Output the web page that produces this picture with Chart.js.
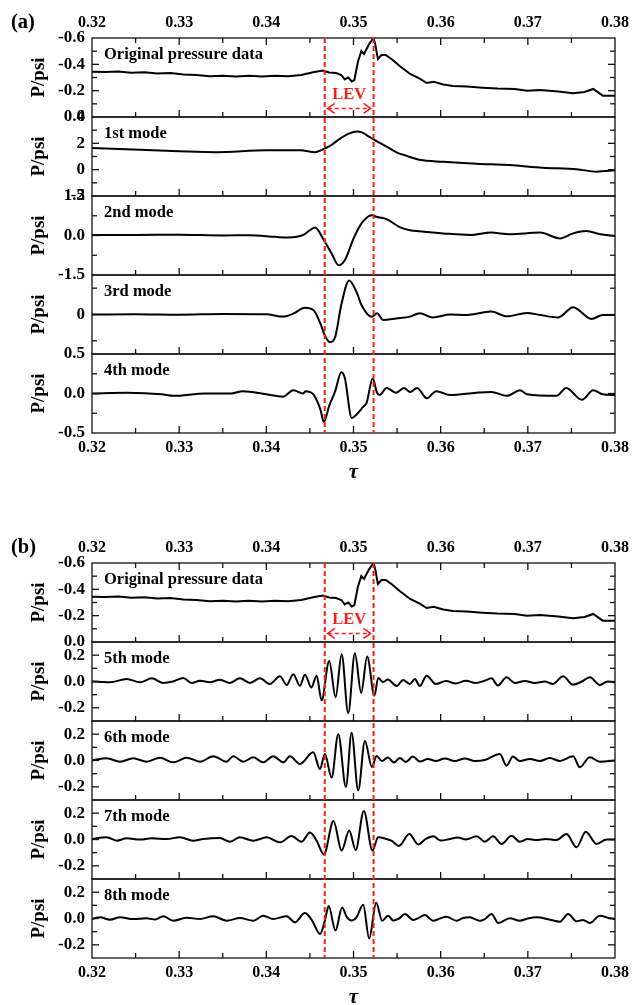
<!DOCTYPE html>
<html>
<head>
<meta charset="utf-8">
<script src="https://cdn.jsdelivr.net/npm/chart.js@4.4.0/dist/chart.umd.min.js"></script>
<style>
html, body { margin: 0; padding: 0; background: #fff; overflow: hidden; }
#wrap { position: relative; width: 643px; height: 1005px; }
canvas { position: absolute; left: 0; }
</style>
</head>
<body>
<div id="wrap">
  <canvas id="panel-a" width="643" height="490" style="top:0px"></canvas>
  <canvas id="panel-b" width="643" height="490" style="top:525px"></canvas>
</div>
<script>
// tau axis
var tauRange = [0.32, 0.38];
var xMajor = [0.32, 0.33, 0.34, 0.35, 0.36, 0.37, 0.38];
var xMinor = [0.325, 0.335, 0.345, 0.355, 0.365, 0.375];
// leading edge vortex window
var levBounds = [0.3467, 0.3523];
var levLabelY = -0.17;
var levArrowY = -0.065;

// original pressure data
var tauOrig = [0.3200,0.3215,0.3230,0.3245,0.3260,0.3275,0.3290,0.3305,0.3320,0.3335,0.3350,0.3365,0.3380,0.3395,0.3410,0.3425,0.3440,0.3455,0.3465,0.3472,0.3480,0.3486,0.3490,0.3494,0.3498,0.3501,0.3505,0.3509,0.3512,0.3518,0.3523,0.3525,0.3528,0.3532,0.3537,0.3545,0.3553,0.3565,0.3576,0.3584,0.3592,0.3603,0.3614,0.3630,0.3648,0.3665,0.3685,0.3699,0.3714,0.3735,0.3752,0.3765,0.3775,0.3786,0.3800];
var pOrig = [-0.344,-0.342,-0.346,-0.336,-0.340,-0.330,-0.334,-0.323,-0.319,-0.309,-0.314,-0.308,-0.313,-0.308,-0.313,-0.309,-0.319,-0.342,-0.353,-0.338,-0.334,-0.319,-0.285,-0.300,-0.270,-0.281,-0.418,-0.501,-0.478,-0.554,-0.600,-0.551,-0.440,-0.471,-0.471,-0.433,-0.387,-0.327,-0.292,-0.258,-0.268,-0.247,-0.235,-0.232,-0.223,-0.216,-0.213,-0.200,-0.205,-0.194,-0.180,-0.190,-0.213,-0.162,-0.162];

// modes 1-4
var tauM1 = [0.3200,0.3247,0.3300,0.3343,0.3400,0.3439,0.3456,0.3462,0.3467,0.3473,0.3484,0.3494,0.3504,0.3509,0.3515,0.3523,0.3542,0.3550,0.3561,0.3576,0.3603,0.3641,0.3679,0.3717,0.3756,0.3779,0.3800];
var pM1 = [1.65,1.53,1.40,1.33,1.47,1.47,1.33,1.45,1.62,1.80,2.33,2.72,2.90,2.85,2.63,2.30,1.60,1.30,1.05,0.75,0.60,0.45,0.35,0.15,0.03,-0.15,-0.05];

var tauM2 = [0.3200,0.3250,0.3300,0.3350,0.3380,0.3410,0.3425,0.3435,0.3443,0.3450,0.3456,0.3465,0.3475,0.3483,0.3490,0.3500,0.3509,0.3521,0.3527,0.3538,0.3553,0.3565,0.3576,0.3603,0.3634,0.3658,0.3679,0.3714,0.3737,0.3752,0.3767,0.3783,0.3800];
var pM2 = [0.02,0.02,0.03,0.00,0.01,-0.05,-0.08,-0.05,0.03,0.20,0.30,-0.12,-0.69,-1.13,-0.94,-0.12,0.45,0.77,0.70,0.62,0.32,0.20,0.16,0.08,0.02,0.11,0.05,0.11,-0.11,0.08,0.17,0.05,-0.02];

var tauM3 = [0.3200,0.3250,0.3300,0.3350,0.3400,0.3419,0.3432,0.3444,0.3454,0.3462,0.3467,0.3473,0.3479,0.3486,0.3495,0.3504,0.3509,0.3521,0.3527,0.3534,0.3549,0.3565,0.3576,0.3591,0.3611,0.3630,0.3658,0.3676,0.3699,0.3714,0.3735,0.3752,0.3773,0.3786,0.3800];
var pM3 = [0.00,0.01,-0.01,0.02,0.01,-0.08,0.05,0.26,0.17,-0.34,-0.79,-1.05,-0.85,0.37,1.29,0.81,0.37,-0.09,0.05,-0.21,-0.15,-0.08,0.05,-0.11,0.00,-0.02,0.11,-0.07,0.06,-0.02,-0.11,0.28,-0.17,-0.02,-0.02];

var tauM4 = [0.3200,0.3240,0.3280,0.3293,0.3330,0.3360,0.3373,0.3400,0.3419,0.3431,0.3442,0.3445,0.3454,0.3462,0.3466,0.3472,0.3479,0.3486,0.3490,0.3498,0.3504,0.3511,0.3515,0.3522,0.3527,0.3530,0.3538,0.3549,0.3558,0.3565,0.3573,0.3584,0.3595,0.3611,0.3641,0.3658,0.3676,0.3691,0.3699,0.3733,0.3744,0.3762,0.3775,0.3786,0.3800];
var pM4 = [0.00,0.01,-0.01,-0.03,0.00,0.00,0.03,-0.01,-0.04,0.04,0.00,0.03,-0.01,-0.20,-0.36,-0.16,0.03,0.27,0.20,-0.31,-0.26,-0.17,-0.12,0.19,0.01,-0.02,0.07,0.01,0.07,0.02,0.07,-0.06,0.03,-0.02,0.01,0.02,-0.03,0.04,-0.01,-0.03,0.07,-0.08,0.04,-0.01,-0.02];

// modes 5-8
var tauM5 = [0.32,0.32206,0.32398,0.3255,0.32685,0.32814,0.32929,0.33047,0.33143,0.33239,0.33353,0.33468,0.33583,0.33697,0.33812,0.33927,0.34041,0.34156,0.34233,0.34309,0.34385,0.34443,0.34517,0.34577,0.34634,0.34721,0.34795,0.34864,0.34939,0.35016,0.35088,0.35157,0.3524,0.35283,0.35341,0.35394,0.35494,0.3557,0.35647,0.35704,0.35761,0.35838,0.35945,0.3606,0.36174,0.36289,0.36404,0.36495,0.36584,0.36656,0.36756,0.36851,0.36966,0.3708,0.37195,0.37287,0.37405,0.37519,0.37619,0.37711,0.37826,0.37917,0.38];
var pM5 = [0,-0.006,0.019,-0.006,0.024,-0.011,0,0.026,-0.011,0.006,-0.006,0.014,-0.011,0.024,-0.011,0.024,-0.019,0.039,-0.026,0.056,-0.032,0.051,-0.045,0.044,-0.144,0.156,-0.119,0.207,-0.241,0.214,-0.086,0.19,-0.107,0.026,-0.004,0.015,-0.034,0.011,-0.019,0.019,-0.034,0.044,-0.019,0.004,-0.015,0.006,-0.011,0.004,0.024,-0.03,0.032,-0.011,0.004,-0.011,0,-0.019,0.039,-0.024,0,0.032,-0.026,0,-0.006];

var tauM6 = [0.32,0.32169,0.32321,0.32474,0.32627,0.3278,0.32932,0.33086,0.33239,0.33391,0.33545,0.3362,0.33735,0.3385,0.33964,0.34079,0.34194,0.34271,0.34385,0.34538,0.34615,0.34672,0.34749,0.34825,0.34913,0.34978,0.35054,0.35131,0.35211,0.35265,0.35326,0.35394,0.35463,0.35532,0.35601,0.35681,0.35761,0.35853,0.35945,0.36048,0.36163,0.36278,0.36392,0.36507,0.36679,0.36756,0.36828,0.36908,0.37023,0.37138,0.37252,0.37367,0.37519,0.37596,0.37711,0.37826,0.38];
var pM6 = [0,0.017,-0.009,0.017,-0.009,0.021,-0.014,0.021,-0.009,0.032,-0.009,0.032,-0.009,0.024,-0.014,0.032,-0.014,0.032,-0.026,0.062,-0.064,0.049,-0.13,0.2,-0.2,0.21,-0.227,0.149,-0.049,0.034,-0.004,0.023,-0.015,0.019,-0.011,0.03,-0.008,0.011,-0.004,0.015,-0.004,0.015,-0.004,0.004,0.049,-0.039,0.03,-0.004,0.011,-0.004,0.019,-0.004,0.032,-0.051,0.024,-0.009,0];

var tauM7 = [0.32,0.32169,0.32283,0.32398,0.3255,0.32685,0.32857,0.33009,0.33162,0.33276,0.33468,0.33583,0.33697,0.3385,0.34003,0.34156,0.3429,0.34405,0.345,0.34577,0.34661,0.3477,0.34864,0.34951,0.35025,0.35119,0.35217,0.35283,0.3536,0.3544,0.35521,0.35641,0.35742,0.3583,0.35914,0.36002,0.36106,0.36197,0.36289,0.36412,0.36507,0.36602,0.36698,0.36813,0.36908,0.37,0.371,0.37206,0.37329,0.37444,0.37559,0.37665,0.37788,0.37903,0.38];
var pM7 = [0.004,0.017,-0.009,0.009,0,0.009,0.004,0.017,-0.009,0.004,0.011,-0.017,0.017,-0.009,0.017,-0.021,0.026,-0.017,0.054,-0.009,-0.113,0.141,-0.084,0.068,-0.08,0.217,-0.084,0.017,0.008,-0.011,-0.049,0.041,-0.038,0.004,0.024,-0.008,0.004,0.015,0,0.024,-0.017,0.024,-0.034,0.029,-0.017,0.004,-0.004,0.004,-0.004,0.041,-0.059,0.059,-0.034,0,0];

var tauM8 = [0.32,0.32092,0.32206,0.32321,0.32474,0.32627,0.32722,0.32818,0.32932,0.33086,0.33239,0.33391,0.33545,0.33697,0.3385,0.33964,0.34079,0.34233,0.34328,0.34443,0.3452,0.34618,0.34672,0.34715,0.34793,0.34869,0.34924,0.34978,0.35036,0.35111,0.3518,0.3526,0.35329,0.35398,0.35455,0.35521,0.3559,0.35685,0.35761,0.35819,0.35914,0.35991,0.36068,0.36182,0.36255,0.36335,0.3645,0.36507,0.36584,0.3666,0.36794,0.36908,0.37,0.371,0.37252,0.37367,0.37462,0.37559,0.37631,0.37711,0.37826,0.3794,0.38];
var pM8 = [-0.004,0.009,-0.009,0.009,-0.004,0.002,-0.008,0.017,-0.017,0.006,-0.004,0.017,-0.017,0.004,-0.017,0.021,-0.004,0.017,-0.029,0.041,-0.011,-0.117,-0.015,0.094,-0.092,0.084,0.011,-0.015,0.011,0.105,-0.152,0.119,-0.017,0.021,-0.015,0,0.034,-0.011,0.009,0.026,-0.017,0,0.013,-0.017,0.004,0.009,-0.017,-0.004,0.034,-0.034,0.002,-0.017,0,0.009,-0.009,-0.024,0.034,-0.021,-0.011,-0.034,0.021,0.002,-0.004];

// y tick values and labels
var ticksOrig = [-0.6, -0.4, -0.2, 0], labelsOrig = ['-0.6', '-0.4', '-0.2', '0.0'], minorOrig = [-0.5, -0.3, -0.1];
var ticksM1 = [-2, 0, 2, 4], labelsM1 = ['-2', '0', '2', '4'], minorM1 = [-1, 1, 3];
var ticksM2 = [-1.5, 0, 1.5], labelsM2 = ['-1.5', '0.0', '1.5'], minorM2 = [-0.75, 0.75];
var ticksM3 = [0], labelsM3 = ['0'], minorM3 = [-1, 1];
var ticksM4 = [-0.5, 0, 0.5], labelsM4 = ['-0.5', '0.0', '0.5'], minorM4 = [-0.25, 0.25];
var ticksHigh = [-0.2, 0, 0.2], labelsHigh = ['-0.2', '0.0', '0.2'], minorHigh = [-0.1, 0.1];

var serif = "'Liberation Serif', 'Times New Roman', serif";
var red = '#ff1a1a';

function toPoints(tau, p) {
  return tau.map(function(t, i) { return {x: t, y: p[i]}; });
}

var origRow = {id: 'yOrig', name: 'Original pressure data', tau: tauOrig, p: pOrig, min: -0.6, max: 0, reverse: true,
  ticks: ticksOrig, labels: labelsOrig, minor: minorOrig, smooth: false};

var rowsA = [
  origRow,
  {id: 'yM1', name: '1st mode', tau: tauM1, p: pM1, min: -2, max: 4, ticks: ticksM1, labels: labelsM1, minor: minorM1, smooth: true},
  {id: 'yM2', name: '2nd mode', tau: tauM2, p: pM2, min: -1.5, max: 1.5, ticks: ticksM2, labels: labelsM2, minor: minorM2, smooth: true},
  {id: 'yM3', name: '3rd mode', tau: tauM3, p: pM3, min: -1.5, max: 1.5, ticks: ticksM3, labels: labelsM3, minor: minorM3, smooth: true},
  {id: 'yM4', name: '4th mode', tau: tauM4, p: pM4, min: -0.5, max: 0.5, ticks: ticksM4, labels: labelsM4, minor: minorM4, smooth: true}
];

var rowsB = [
  origRow,
  {id: 'yM5', name: '5th mode', tau: tauM5, p: pM5, min: -0.3, max: 0.3, ticks: ticksHigh, labels: labelsHigh, minor: minorHigh, smooth: true},
  {id: 'yM6', name: '6th mode', tau: tauM6, p: pM6, min: -0.3, max: 0.3, ticks: ticksHigh, labels: labelsHigh, minor: minorHigh, smooth: true},
  {id: 'yM7', name: '7th mode', tau: tauM7, p: pM7, min: -0.3, max: 0.3, ticks: ticksHigh, labels: labelsHigh, minor: minorHigh, smooth: true},
  {id: 'yM8', name: '8th mode', tau: tauM8, p: pM8, min: -0.3, max: 0.3, ticks: ticksHigh, labels: labelsHigh, minor: minorHigh, smooth: true}
];

function xScale(position) {
  return {
    type: 'linear',
    position: position,
    min: tauRange[0],
    max: tauRange[1],
    afterBuildTicks: function(s) { s.ticks = xMajor.map(function(v) { return {value: v}; }); },
    afterFit: function(s) { s.height = position === 'top' ? 38 : 57; },
    grid: {display: false, drawTicks: false},
    border: {display: false},
    ticks: {
      autoSkip: false, maxRotation: 0, color: '#000',
      padding: position === 'top' ? 6 : 5,
      font: {family: serif, size: 16, weight: 'bold'},
      callback: function(v) { return v.toFixed(2); }
    },
    title: {
      display: position === 'bottom', text: 'τ', color: '#000',
      font: {family: serif, size: 21, style: 'italic', weight: 'bold'},
      padding: {top: 0, bottom: 5}
    }
  };
}

function yScale(r) {
  return {
    type: 'linear',
    position: 'left',
    stack: 'rows',
    stackWeight: 1,
    min: r.min,
    max: r.max,
    reverse: !!r.reverse,
    afterBuildTicks: function(s) { s.ticks = r.ticks.map(function(v) { return {value: v}; }); },
    afterFit: function(s) { s.width = 92; },
    grid: {display: false, drawTicks: false},
    border: {display: false},
    ticks: {
      autoSkip: false, color: '#000', padding: 7,
      font: {family: serif, size: 17, weight: 'bold'},
      callback: function(v, i) { return r.labels[i]; }
    },
    title: {
      display: true, text: 'P/psi', color: '#000',
      font: {family: serif, size: 19, weight: 'bold'},
      padding: {top: 28, bottom: 0}
    }
  };
}

function tickLine(ctx, x1, y1, x2, y2) {
  ctx.beginPath();
  ctx.moveTo(x1, y1);
  ctx.lineTo(x2, y2);
  ctx.stroke();
}

function makePanel(canvasId, panelName, rows) {
  var scales = {x: xScale('bottom'), xTop: xScale('top')};
  // left boxes are stacked last-defined first, so add the bottom row first
  rows.slice().reverse().forEach(function(r) { scales[r.id] = yScale(r); });

  var framePlugin = {
    id: 'frame',
    afterDatasetsDraw: function(chart) {
      var ctx = chart.ctx, area = chart.chartArea, xs = chart.scales.x;
      ctx.save();
      ctx.strokeStyle = '#111';
      ctx.lineWidth = 1.3;
      rows.forEach(function(r, i) {
        var s = chart.scales[r.id];
        ctx.strokeRect(area.left, s.top, area.right - area.left, s.bottom - s.top);
        // y ticks, pointing in on both sides
        var yt = [];
        r.ticks.forEach(function(v) { yt.push([v, 7]); });
        r.minor.forEach(function(v) { yt.push([v, 5]); });
        yt.forEach(function(t) {
          if (t[0] <= r.min || t[0] >= r.max) return;
          var py = s.getPixelForValue(t[0]);
          tickLine(ctx, area.left, py, area.left + t[1], py);
          tickLine(ctx, area.right, py, area.right - t[1], py);
        });
        // x ticks on the bottom edge of every row, and top edge of first
        var xt = [];
        xMajor.forEach(function(v) { xt.push([v, 7]); });
        xMinor.forEach(function(v) { xt.push([v, 5]); });
        xt.forEach(function(t) {
          if (t[0] <= tauRange[0] || t[0] >= tauRange[1]) return;
          var px = xs.getPixelForValue(t[0]);
          tickLine(ctx, px, s.bottom, px, s.bottom - t[1]);
          if (i === 0) tickLine(ctx, px, s.top, px, s.top + t[1]);
        });
        // row caption
        ctx.fillStyle = '#000';
        ctx.font = 'bold 16.5px ' + serif;
        ctx.textBaseline = 'middle';
        ctx.textAlign = 'left';
        ctx.fillText(r.name, area.left + 12, s.top + 17);
      });

      // LEV window
      var top = chart.scales[rows[0].id];
      ctx.strokeStyle = red;
      ctx.lineWidth = 2;
      ctx.setLineDash([5, 3]);
      levBounds.forEach(function(t) {
        var px = xs.getPixelForValue(t);
        tickLine(ctx, px, area.top, px, area.bottom);
      });
      var xa = xs.getPixelForValue(levBounds[0]) + 3;
      var xb = xs.getPixelForValue(levBounds[1]) - 3;
      var ya = top.getPixelForValue(levArrowY);
      ctx.lineWidth = 1.6;
      ctx.setLineDash([4, 3]);
      tickLine(ctx, xa, ya, xb, ya);
      ctx.setLineDash([]);
      ctx.beginPath();
      ctx.moveTo(xa + 7, ya - 5); ctx.lineTo(xa, ya); ctx.lineTo(xa + 7, ya + 5);
      ctx.moveTo(xb - 7, ya - 5); ctx.lineTo(xb, ya); ctx.lineTo(xb - 7, ya + 5);
      ctx.stroke();
      ctx.fillStyle = red;
      ctx.font = 'bold 16.5px ' + serif;
      ctx.textAlign = 'center';
      ctx.fillText('LEV', (xa + xb) / 2, top.getPixelForValue(levLabelY));

      // panel letter
      ctx.fillStyle = '#000';
      ctx.font = 'bold 20.5px ' + serif;
      ctx.textAlign = 'left';
      ctx.fillText(panelName, 11, 23);
      ctx.restore();
    }
  };

  return new Chart(document.getElementById(canvasId), {
    type: 'line',
    data: {
      datasets: rows.map(function(r) {
        return {
          data: toPoints(r.tau, r.p),
          xAxisID: 'x',
          yAxisID: r.id,
          borderColor: '#000',
          borderWidth: 2,
          pointRadius: 0,
          fill: false,
          tension: r.smooth ? 0.4 : 0,
          cubicInterpolationMode: r.smooth ? 'monotone' : 'default'
        };
      })
    },
    options: {
      responsive: false,
      animation: false,
      layout: {padding: {left: 0, right: 28, top: 0, bottom: 0}},
      plugins: {legend: {display: false}, tooltip: {enabled: false}},
      scales: scales
    },
    plugins: [framePlugin]
  });
}

makePanel('panel-a', '(a)', rowsA);
makePanel('panel-b', '(b)', rowsB);
</script>
</body>
</html>
